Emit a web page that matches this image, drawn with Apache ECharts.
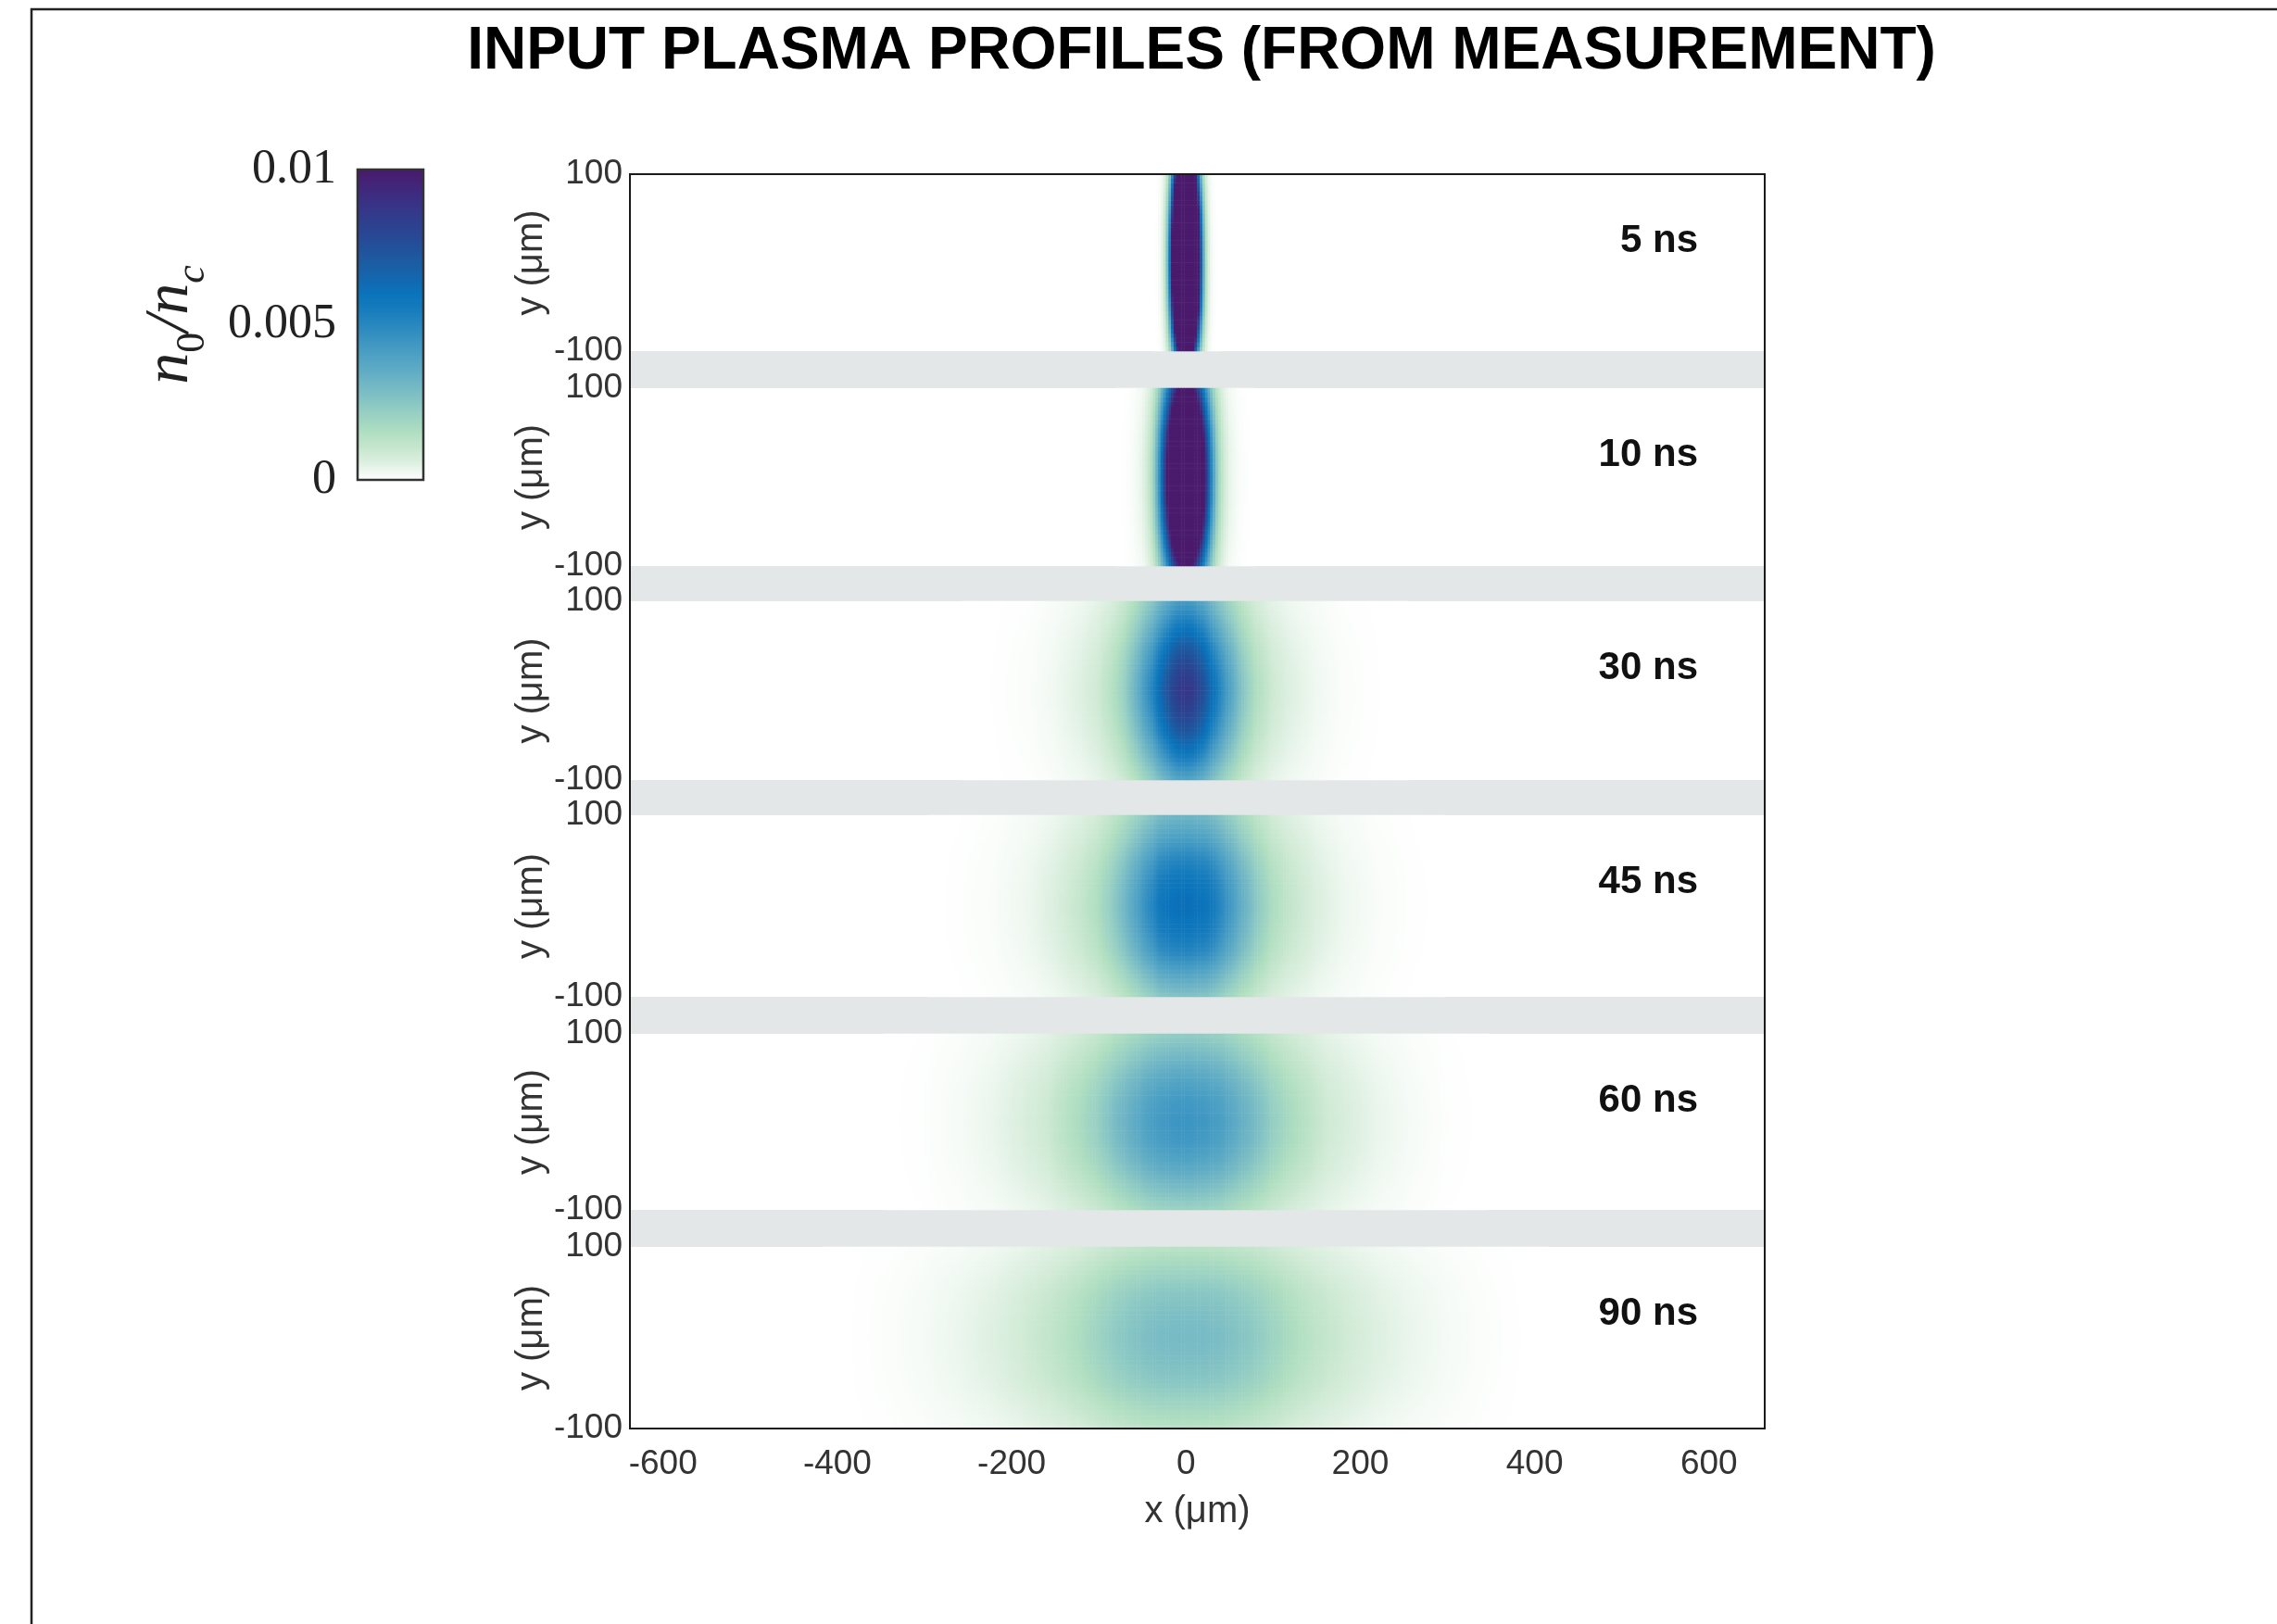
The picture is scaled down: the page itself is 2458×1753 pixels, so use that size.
<!DOCTYPE html>
<html><head><meta charset="utf-8">
<script src="https://cdn.jsdelivr.net/npm/echarts@6/dist/echarts.min.js"></script>
<style>html,body{margin:0;padding:0;background:#fff}#c{width:2458px;height:1753px}</style>
</head><body><div id="c"></div>
<script>
// ---------- data ----------
const times = ['5 ns', '10 ns', '30 ns', '45 ns', '60 ns', '90 ns'];
const xTickLabels = [-600, -400, -200, 0, 200, 400, 600];
const yTickLabels = [-100, 100];
const cbTickLabels = [0, 0.005, 0.01];

// y positions (µm) at which the vertical profile factor was read
const yFacPos = [-100, -75, -50, -25, 0, 25, 50, 75, 100];

// density n0/nc along x through the centre of each panel (|x| in µm)
const xPos5  = [0, 4, 8, 12, 14, 16, 18, 20, 22, 24, 26, 28, 30, 34, 40];
const xVal5  = [0.050, 0.045, 0.033, 0.020, 0.0145, 0.0099, 0.0064, 0.0040, 0.0023, 0.0013, 0.0007, 0.00035, 0.00017, 0.00003, 0];
const yFac5  = [0.30, 0.55, 0.78, 0.94, 1.0, 0.95, 0.82, 0.63, 0.43];

const xPos10 = [0, 5, 10, 15, 20, 22, 25, 30, 35, 40, 45, 50, 60, 70, 80];
const xVal10 = [0.023, 0.022, 0.0193, 0.0156, 0.0115, 0.0099, 0.0078, 0.0048, 0.0027, 0.0014, 0.0008, 0.0004, 0.00012, 0.00003, 0];
const yFac10 = [0.46, 0.66, 0.84, 0.96, 1.0, 0.96, 0.85, 0.67, 0.49];

const xPos30 = [0, 10, 20, 30, 40, 50, 60, 70, 80, 100, 120, 150, 180, 220, 260];
const xVal30 = [0.0088, 0.0085, 0.0076, 0.0063, 0.0050, 0.0040, 0.0030, 0.0022, 0.0016, 0.0009, 0.00055, 0.00025, 0.00008, 0.00002, 0];
const yFac30 = [0.43, 0.62, 0.80, 0.93, 1.0, 0.93, 0.80, 0.63, 0.48];

const xPos45 = [0, 20, 30, 40, 50, 60, 70, 80, 100, 120, 150, 180, 220, 260, 300];
const xVal45 = [0.0062, 0.0060, 0.0057, 0.0050, 0.0044, 0.0037, 0.0031, 0.0025, 0.0016, 0.0011, 0.0006, 0.0003, 0.0001, 0.00003, 0];
const yFac45 = [0.42, 0.62, 0.82, 0.95, 1.0, 0.96, 0.83, 0.66, 0.50];

const xPos60 = [0, 20, 40, 60, 80, 100, 120, 140, 160, 190, 220, 260, 300, 350];
const xVal60 = [0.0045, 0.0044, 0.0041, 0.0035, 0.0029, 0.0022, 0.0017, 0.0013, 0.0009, 0.0006, 0.00035, 0.00015, 0.00004, 0];
const yFac60 = [0.45, 0.64, 0.83, 0.96, 1.0, 0.96, 0.84, 0.67, 0.50];

const xPos90 = [0, 20, 40, 60, 80, 100, 120, 140, 160, 190, 220, 260, 300, 340, 380, 420];
const xVal90 = [0.0029, 0.0029, 0.0028, 0.0026, 0.00235, 0.0020, 0.00165, 0.00135, 0.0011, 0.0008, 0.00055, 0.00033, 0.00017, 0.00007, 0.00002, 0];
const yFac90 = [0.45, 0.65, 0.84, 0.96, 1.0, 0.96, 0.85, 0.66, 0.44];

const xPosList = [xPos5, xPos10, xPos30, xPos45, xPos60, xPos90];
const xValList = [xVal5, xVal10, xVal30, xVal45, xVal60, xVal90];
const yFacList = [yFac5, yFac10, yFac30, yFac45, yFac60, yFac90];

// colour map (0 -> 0.01, 21 evenly spaced stops)
const cmap = ['#ffffff', '#e0f1e3', '#c8e7cf', '#b1dfc1', '#9dd3c3', '#88c6c4', '#74b8c5',
              '#60acc5', '#4da1c4', '#3b94c2', '#2887c0', '#167cbd', '#0a73bb', '#1467ae',
              '#1c5ca2', '#23509a', '#2a4592', '#323b8b', '#3a3084', '#422578', '#4a1a6c'];

// ---------- grid of the image ----------
const X_MIN = -638, X_MAX = 664, X_STEP = 3;
const Y_MIN = -100, Y_MAX = 100, Y_STEP = 5;
const nx = Math.round((X_MAX - X_MIN) / X_STEP);
const ny = Math.round((Y_MAX - Y_MIN) / Y_STEP);
const xCats = [], yCats = [];
for (let i = 0; i < nx; i++) xCats.push(String(X_MIN + X_STEP * (i + 0.5)));
for (let j = 0; j < ny; j++) yCats.push(String(Y_MIN + Y_STEP * (j + 0.5)));

function lerp(pos, val, t) {
  if (t <= pos[0]) return val[0];
  if (t >= pos[pos.length - 1]) return val[val.length - 1];
  for (let k = 1; k < pos.length; k++) {
    if (t <= pos[k]) {
      const f = (t - pos[k - 1]) / (pos[k] - pos[k - 1]);
      return val[k - 1] + f * (val[k] - val[k - 1]);
    }
  }
  return 0;
}

function panelData(p) {
  const out = [];
  for (let j = 0; j < ny; j++) {
    const yc = Y_MIN + Y_STEP * (j + 0.5);
    const fy = lerp(yFacPos, yFacList[p], yc);
    for (let i = 0; i < nx; i++) {
      const xc = X_MIN + X_STEP * (i + 0.5);
      const v = lerp(xPosList[p], xValList[p], Math.abs(xc)) * fy;
      if (v > 1e-6) out.push([i, j, v]);
    }
  }
  return out;
}

// ---------- layout ----------
const PLOT_L = 680, PLOT_W = 1225, PLOT_T = 188, PLOT_B = 1542;
const panelTop = [188, 419, 649, 880, 1116, 1346];
const panelBot = [379, 611, 842, 1076, 1306, 1542];
const SANS = '"Liberation Sans", Arial, sans-serif';
const SERIF = '"Liberation Serif", "Times New Roman", serif';

const grid = [], xAxis = [], yAxis = [], series = [];
grid.push({left: PLOT_L, top: PLOT_T, width: PLOT_W, height: PLOT_B - PLOT_T,
  show: true, backgroundColor: '#e4e7e8', borderWidth: 0});
for (let p = 0; p < 6; p++) {
  grid.push({left: PLOT_L, top: panelTop[p], width: PLOT_W, height: panelBot[p] - panelTop[p],
    show: true, backgroundColor: '#ffffff', borderWidth: 0});
}
grid.push({left: PLOT_L, top: PLOT_T, width: PLOT_W, height: PLOT_B - PLOT_T,
  show: true, backgroundColor: 'transparent', borderColor: '#1a1a1a', borderWidth: 2, z: 10});
grid.push({left: 386, top: 183, width: 71, height: 335,
  show: true, backgroundColor: 'transparent', borderColor: '#333', borderWidth: 2.5, z: 10});

for (let p = 0; p < 6; p++) {
  xAxis.push({type: 'category', gridIndex: p + 1, data: xCats, show: false, position: 'bottom'});
  yAxis.push({type: 'category', gridIndex: p + 1, data: yCats, show: false, position: 'right'});
}
xAxis.push({type: 'value', gridIndex: 0, min: X_MIN, max: X_MAX, position: 'bottom',
  axisLine: {show: false}, axisTick: {show: false}, splitLine: {show: false},
  axisLabel: {customValues: xTickLabels, fontSize: 37, color: '#333', fontFamily: SANS, margin: 20},
  name: 'x (μm)', nameLocation: 'middle', nameGap: 70,
  nameTextStyle: {fontSize: 40, color: '#333', fontFamily: SANS}});
xAxis.push({type: 'value', gridIndex: 7, show: false, min: X_MIN, max: X_MAX});
xAxis.push({type: 'value', gridIndex: 8, show: false, min: 0, max: 1});
for (let p = 0; p < 6; p++) {
  yAxis.push({type: 'value', gridIndex: p + 1, min: Y_MIN, max: Y_MAX, position: 'left',
    axisLine: {show: false}, axisTick: {show: false}, splitLine: {show: false},
    axisLabel: {customValues: yTickLabels, fontSize: 37, color: '#333', fontFamily: SANS, margin: 8},
    name: 'y (μm)', nameLocation: 'middle', nameGap: 86,
    nameTextStyle: {fontSize: 40, color: '#333', fontFamily: SANS}});
}
yAxis.push({type: 'value', gridIndex: 0, show: false, min: 0, max: 1});
yAxis.push({type: 'value', gridIndex: 7, show: false, min: 0, max: 1});
yAxis.push({type: 'value', gridIndex: 8, min: 0, max: 0.01, position: 'left',
  axisLine: {show: false}, splitLine: {show: false},
  axisTick: {show: true, inside: true, length: 5, customValues: [0.005], lineStyle: {color: '#333', width: 2}},
  axisLabel: {customValues: cbTickLabels, fontSize: 52, color: '#222', fontFamily: SERIF, margin: 23},
  name: '{n|n}{s|0}{n|/}{n|n}{sc|c}', nameLocation: 'middle', nameGap: 156,
  nameTextStyle: {color: '#222', fontFamily: SERIF,
    rich: {
      n: {fontSize: 68, fontStyle: 'italic', fontFamily: SERIF, color: '#222', lineHeight: 92, verticalAlign: 'middle'},
      s: {fontSize: 44, fontFamily: SERIF, color: '#222', verticalAlign: 'bottom'},
      sc: {fontSize: 44, fontStyle: 'italic', fontFamily: SERIF, color: '#222', verticalAlign: 'bottom'}
    }}});

for (let p = 0; p < 6; p++) {
  series.push({type: 'heatmap', name: times[p], xAxisIndex: p, yAxisIndex: p,
    data: panelData(p), progressive: 0, progressiveThreshold: 1e8,
    silent: true, emphasis: {disabled: true}, itemStyle: {borderWidth: 0}});
}

const graphic = [
  {type: 'rect', silent: true, z: 100, shape: {x: 34, y: 10, width: 2600, height: 1900},
   style: {fill: 'none', stroke: '#222', lineWidth: 2.5}},
  {type: 'text', x: 1297, y: 56, z: 100, silent: true,
   style: {text: 'INPUT PLASMA PROFILES (FROM MEASUREMENT)', font: 'bold 64px ' + SANS, fill: '#000',
     align: 'center', verticalAlign: 'middle', textAlign: 'center', textVerticalAlign: 'middle'}}
];
for (let p = 0; p < 6; p++) {
  graphic.push({type: 'text', x: 1833, y: panelTop[p] + 72, z: 100, silent: true,
    style: {text: times[p], font: 'bold 42px ' + SANS, fill: '#111',
      align: 'right', verticalAlign: 'middle', textAlign: 'right', textVerticalAlign: 'middle'}});
}

const chart = echarts.init(document.getElementById('c'), null, {renderer: 'canvas'});
chart.setOption({
  animation: false,
  backgroundColor: '#ffffff',
  grid, xAxis, yAxis, series, graphic,
  visualMap: {type: 'continuous', min: 0, max: 0.01, seriesIndex: [0, 1, 2, 3, 4, 5],
    orient: 'vertical', left: 386, top: 183, itemWidth: 71, itemHeight: 335, padding: 0,
    calculable: false, hoverLink: false, inRange: {color: cmap}}
});
</script></body></html>
